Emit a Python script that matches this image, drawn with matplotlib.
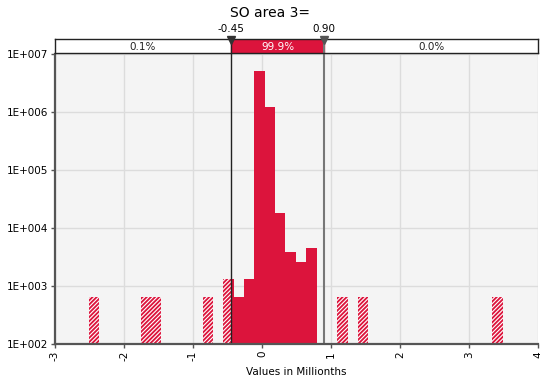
import matplotlib
matplotlib.use('Agg')
import matplotlib.pyplot as plt
import numpy as np

# histogram bins (left edge, width) and counts
bin_left = [-2.51, -1.76, -1.61, -0.86, -0.56, -0.41, -0.26, -0.11, 0.04, 0.19, 0.34, 0.49, 0.64, 1.09, 1.39, 3.34]
counts = [650, 650, 650, 650, 1300, 650, 1300, 5.1e6, 1.22e6, 18200, 3900, 2600, 4550, 650, 650, 650]
bin_width = 0.15

# selected range and shares
low, high = -0.45, 0.90
share_labels = ['0.1%', '99.9%', '0.0%']

title = 'SO area 3='
xlabel = 'Values in Millionths'
xmin, xmax = -3, 4

red = '#DC143C'
plt.rcParams['font.family'] = 'DejaVu Sans'
plt.rcParams['hatch.color'] = 'white'
plt.rcParams['hatch.linewidth'] = 0.8

fig = plt.figure(figsize=(5.4, 3.81), dpi=100)
ax = fig.add_axes([55/540, 1-344/381, 483/540, 290/381])
strip = fig.add_axes([55/540, 1-53/381, 483/540, 14/381])

# split each bin into the part inside and outside the selected range
for left, c in zip(bin_left, counts):
    right = left + bin_width
    a, b = max(left, low), min(right, high)
    if b > a:
        ax.bar(a, c, width=b-a, align='edge', color=red, linewidth=0, zorder=2)
    for s, e in [(left, min(right, low)), (max(left, high), right)]:
        if e > s:
            ax.bar(s, c, width=e-s, align='edge', facecolor=red, edgecolor='white',
                   hatch='////////', linewidth=0, zorder=2)

ax.set_yscale('log')
ax.set_ylim(1e2, 1e7)
ax.set_xlim(xmin, xmax)
ax.set_facecolor('#F4F4F4')
ax.grid(True, color='#DCDCDC', linewidth=1, zorder=0)
ax.set_axisbelow(True)
ax.set_yticks([1e2, 1e3, 1e4, 1e5, 1e6, 1e7])
ax.set_yticklabels(['1E+%03d' % p for p in range(2, 8)], fontsize=7.5)
ax.minorticks_off()
ax.set_xticks(range(xmin, xmax + 1))
ax.set_xticklabels([str(v) for v in range(xmin, xmax + 1)], rotation=90, fontsize=7.5)
ax.tick_params(length=3, width=1, color='#555555', pad=2)
for side in ['top', 'right']:
    ax.spines[side].set_visible(False)
for side in ['left', 'bottom']:
    ax.spines[side].set_color('#555555')
    ax.spines[side].set_linewidth(1.6)
    ax.spines[side].set_zorder(5)
ax.set_xlabel(xlabel, fontsize=7.5, labelpad=4)

ax.axvline(low, color='#222222', linewidth=1, zorder=4)
ax.axvline(high, color='#777777', linewidth=1.5, zorder=4)

# range strip on top
strip.set_xlim(xmin, xmax)
strip.set_ylim(0, 1)
strip.axvspan(low, high, color=red, zorder=1)
strip.axvline(low, color='#222222', linewidth=1, zorder=2)
strip.axvline(high, color='#777777', linewidth=1.5, zorder=2)
strip.set_xticks([])
strip.set_yticks([])
for sp in strip.spines.values():
    sp.set_color('#222222')
    sp.set_linewidth(1)
centers = [(xmin + low) / 2, (low + high) / 2, (high + xmax) / 2]
for cx, lab, col in zip(centers, share_labels, ['#222222', 'white', '#222222']):
    strip.text(cx, 0.45, lab, ha='center', va='center', fontsize=7.5, color=col)
for v, col in [(low, '#333333'), (high, '#555555')]:
    strip.plot(v, 0.95, marker='v', markersize=5.5, color=col, clip_on=False, zorder=5)
    strip.text(v, 1.35, '%.2f' % v, ha='center', va='bottom', fontsize=7.5)

fig.text(0.5, 1 - 13/381, title, ha='center', va='center', fontsize=10)

fig.savefig('out.png', dpi=100)
